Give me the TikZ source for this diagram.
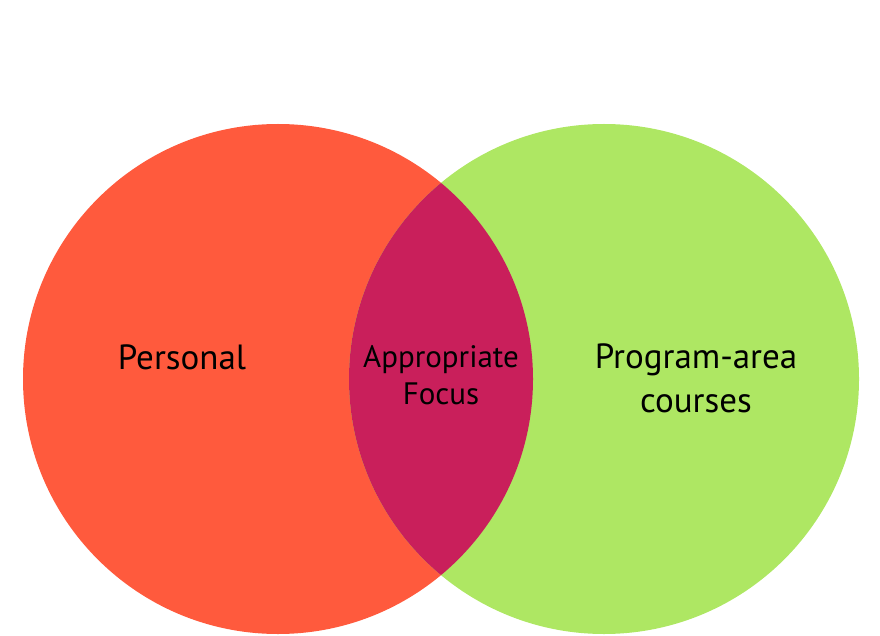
\documentclass[tikz,border=0pt]{standalone}
\usepackage{fontspec}
\setmainfont{PT Sans}
\definecolor{personalred}{HTML}{FF5A3D}
\definecolor{programgreen}{HTML}{AEE763}
\definecolor{focusred}{HTML}{C91F5B}
\begin{document}
\begin{tikzpicture}[x=1pt,y=-1pt,
  lbl/.style={align=center,font=\fontsize{35}{44}\selectfont,text=black,inner sep=0pt},
  smalllbl/.style={align=center,font=\fontsize{31}{37}\selectfont,text=black,inner sep=0pt}]
\useasboundingbox (0,0) rectangle (880,636);
% the two sets
\fill[personalred] (278,379) circle[radius=255];
\fill[programgreen] (604,379) circle[radius=255];
% their overlap
\begin{scope}
  \clip (278,379) circle[radius=255];
  \fill[focusred] (604,379) circle[radius=255];
\end{scope}
\node[lbl] (personal) at (182,357) {Personal};
\node[smalllbl] (focus) at (441,375) {Appropriate\\Focus};
\node[lbl] (program) at (696,378) {Program-area\\courses};
\end{tikzpicture}
\end{document}
